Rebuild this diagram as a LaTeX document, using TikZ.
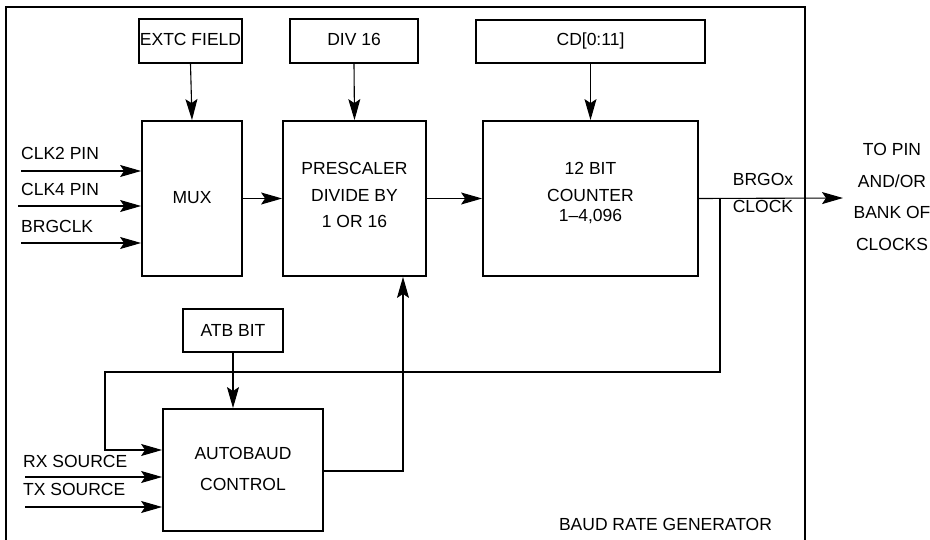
\documentclass[tikz,border=0pt]{standalone}
\usepackage{fontspec}
\setmainfont{Liberation Sans}
\usetikzlibrary{arrows.meta,calc}
\begin{document}
\begin{tikzpicture}[x=1pt,y=-1pt,
  box/.style={draw,line width=1.8pt,inner sep=0pt},
  txt/.style={inner sep=0pt,text height=0.716em,text depth=0pt},
  line/.style={line width=1.1pt},
  arr/.style={line width=1.1pt,-{Stealth[length=21pt,width=12pt,inset=4pt]}},
  frame/.style={line width=1.3pt},
  every node/.style={font=\fontsize{17.5}{21}\selectfont}]
\useasboundingbox (0,0) rectangle (930,540);
\draw[frame] (6,560) -- (6,7) -- (805,7) -- (805,560);
% top boxes
\node[box,minimum width=103pt,minimum height=44pt] (extc) at (190.5,41) {};
\node[txt] (extct) at (190.5,41.5) {EXTC FIELD};
\node[box,minimum width=128pt,minimum height=44pt] (div) at (354,41) {};
\node[txt] (divt) at (354,41.5) {DIV 16};
\node[box,minimum width=229pt,minimum height=43pt] (cd) at (590.5,41.5) {};
\node[txt] (cdt) at (590.5,42) {CD[0:11]};
% main boxes
\node[box,minimum width=100pt,minimum height=155pt] (mux) at (192,198.5) {};
\node[txt] (muxt) at (192,199.5) {MUX};
\node[box,minimum width=143pt,minimum height=155pt] (pre) at (354.5,198.5) {};
\node[txt] (pre1) at (354.5,171) {PRESCALER};
\node[txt] (pre2) at (354.5,198) {DIVIDE BY};
\node[txt] (pre3) at (354.5,224) {1 OR 16};
\node[box,minimum width=215pt,minimum height=155pt] (cnt) at (590.5,198.5) {};
\node[txt] (cnt1) at (590.5,171) {12 BIT};
\node[txt] (cnt2) at (590.5,198) {COUNTER};
\node[txt] (cnt3) at (590.5,218) {1–4,096};
% lower boxes
\node[box,minimum width=100pt,minimum height=43pt] (atb) at (233,330.5) {};
\node[txt] (atbt) at (233,333) {ATB BIT};
\node[box,minimum width=160pt,minimum height=122pt] (ab) at (243,470) {};
\node[txt] (ab1) at (243,456) {AUTOBAUD};
\node[txt] (ab2) at (243,487) {CONTROL};
% vertical inputs
\draw[arr] (extc.south) -- (mux.north);
\draw[arr] (div.south) -- (pre.north);
\draw[arr] (cd.south) -- (cnt.north);
\draw[arr] (atb.south) -- (atb.south |- ab.north);
% horizontal chain
\draw[arr] (mux.east) -- (pre.west);
\draw[arr] (pre.east) -- (cnt.west);
% left inputs
\coordinate (i1) at (21,171);
\coordinate (i2) at (18,206);
\coordinate (i3) at (21,243);
\draw[arr] (i1) -- (i1 -| mux.west);
\draw[arr] (i2) -- (i2 -| mux.west);
\draw[arr] (i3) -- (i3 -| mux.west);
\node[txt,anchor=west] (l1) at (21,156) {CLK2 PIN};
\node[txt,anchor=west] (l2) at (21,192) {CLK4 PIN};
\node[txt,anchor=west] (l3) at (21,229) {BRGCLK};
\coordinate (rx) at (25,477);
\coordinate (tx) at (25,507);
\draw[arr] (rx) -- (rx -| ab.west);
\draw[arr] (tx) -- (tx -| ab.west);
\node[txt,anchor=west] (lrx) at (23,464) {RX SOURCE};
\node[txt,anchor=west] (ltx) at (23,492) {TX SOURCE};
% output
\coordinate (out) at (843,198);
\draw[arr] (cnt.east) -- (out);
\node[txt] (brg1) at (763,182) {BRGOx};
\node[txt] (brg2) at (763,209) {CLOCK};
\node[txt] (to1) at (892,152) {TO PIN};
\node[txt] (to2) at (892,183.5) {AND/OR};
\node[txt] (to3) at (892,215) {BANK OF};
\node[txt] (to4) at (892,246.5) {CLOCKS};
% feedback
\coordinate (br) at (720,198);
\coordinate (fb1) at (720,372);
\coordinate (fb2) at (105,372);
\coordinate (fb3) at (105,450);
\draw[arr] (br) -- (fb1) -- (fb2) -- (fb3) -- (fb3 -| ab.west);
% autobaud to prescaler
\coordinate (pu) at (403,471);
\draw[arr] (pu -| ab.east) -- (pu) -- (pu |- pre.south);
\node[txt] (brgen) at (665.5,527) {BAUD RATE GENERATOR};
\end{tikzpicture}
\end{document}
